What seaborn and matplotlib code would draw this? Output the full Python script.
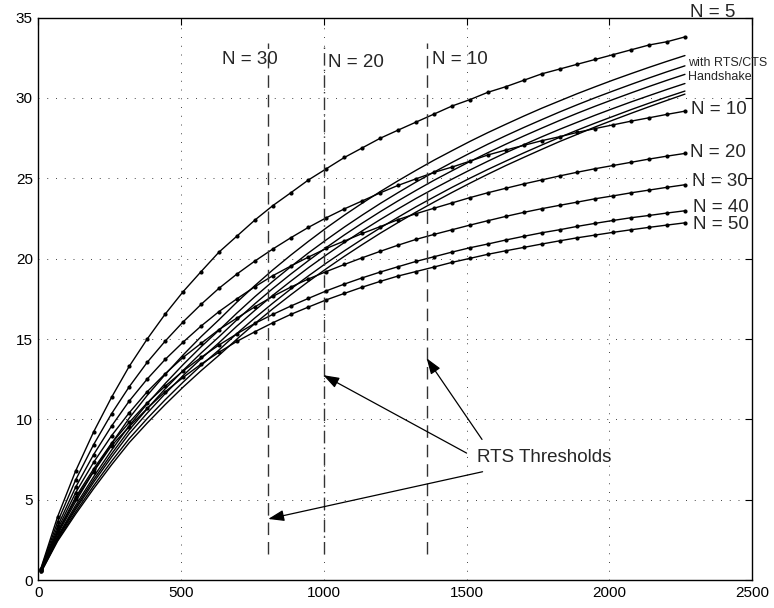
import matplotlib
matplotlib.use("Agg")
import matplotlib.pyplot as plt
import seaborn as sns
import pandas as pd

# packet size (x) shared by every curve
packet_size = [8, 67, 130, 193, 256, 318, 381, 444, 507, 570, 632, 695, 758, 821,
               884, 946, 1009, 1072, 1135, 1198, 1260, 1323, 1386, 1449, 1512, 1574,
               1637, 1700, 1763, 1826, 1888, 1951, 2014, 2077, 2140, 2202, 2265]

# basic access throughput, one list per station count
basic_n5 = [0.70, 3.94, 6.78, 9.21, 11.37, 13.30, 15.00, 16.55, 17.95, 19.20, 20.40, 21.40,
            22.40, 23.30, 24.10, 24.90, 25.60, 26.30, 26.90, 27.50, 28.00, 28.50, 29.00,
            29.50, 29.90, 30.35, 30.70, 31.10, 31.50, 31.80, 32.10, 32.40, 32.70, 33.00,
            33.30, 33.50, 33.80]
basic_n10 = [0.66, 3.62, 6.22, 8.42, 10.35, 12.03, 13.55, 14.87, 16.07, 17.16, 18.15, 19.04,
             19.85, 20.60, 21.30, 21.95, 22.55, 23.10, 23.60, 24.10, 24.56, 24.97, 25.37,
             25.70, 26.07, 26.45, 26.76, 27.05, 27.34, 27.59, 27.86, 28.10, 28.33, 28.56,
             28.77, 28.98, 29.18]
basic_n20 = [0.62, 3.35, 5.77, 7.80, 9.58, 11.14, 12.51, 13.73, 14.81, 15.81, 16.70, 17.50,
             18.25, 18.94, 19.54, 20.10, 20.64, 21.10, 21.57, 22.00, 22.43, 22.80, 23.14,
             23.47, 23.80, 24.10, 24.38, 24.65, 24.90, 25.15, 25.38, 25.60, 25.80, 26.00,
             26.20, 26.38, 26.55]
basic_n30 = [0.60, 3.15, 5.43, 7.32, 8.98, 10.41, 11.72, 12.84, 13.86, 14.73, 15.58, 16.30,
             17.00, 17.65, 18.23, 18.74, 19.20, 19.64, 20.06, 20.46, 20.84, 21.20, 21.51,
             21.80, 22.09, 22.36, 22.63, 22.88, 23.11, 23.32, 23.52, 23.73, 23.91, 24.10,
             24.27, 24.44, 24.60]
basic_n40 = [0.58, 3.00, 5.15, 6.91, 8.51, 9.81, 11.03, 12.07, 13.01, 13.86, 14.62, 15.32,
             15.97, 16.53, 17.05, 17.53, 18.00, 18.42, 18.81, 19.17, 19.50, 19.83, 20.12,
             20.41, 20.68, 20.91, 21.16, 21.39, 21.61, 21.80, 22.01, 22.20, 22.38, 22.55,
             22.69, 22.84, 22.98]
basic_n50 = [0.57, 2.95, 5.04, 6.74, 8.36, 9.54, 10.68, 11.72, 12.61, 13.44, 14.17, 14.85,
             15.45, 16.01, 16.53, 16.99, 17.44, 17.84, 18.23, 18.59, 18.92, 19.20, 19.48,
             19.77, 20.02, 20.27, 20.49, 20.70, 20.91, 21.11, 21.30, 21.47, 21.64, 21.80,
             21.95, 22.09, 22.23]

# RTS/CTS handshake throughput (same station counts, no markers)
rts_n5 = [0.55, 2.85, 4.88, 6.75, 8.49, 10.08, 11.49, 12.79, 14.01, 15.15, 16.19, 17.29,
          18.32, 19.30, 20.22, 21.08, 21.92, 22.71, 23.46, 24.18, 24.85, 25.50, 26.13,
          26.72, 27.30, 27.84, 28.36, 28.87, 29.36, 29.82, 30.27, 30.70, 31.12, 31.52,
          31.91, 32.28, 32.64]
rts_n10 = [0.53, 2.71, 4.64, 6.42, 8.08, 9.61, 10.97, 12.23, 13.41, 14.52, 15.54, 16.61,
           17.63, 18.59, 19.50, 20.36, 21.18, 21.97, 22.72, 23.44, 24.11, 24.77, 25.39,
           25.99, 26.57, 27.12, 27.65, 28.16, 28.65, 29.13, 29.58, 30.02, 30.44, 30.85,
           31.25, 31.63, 32.00]
rts_n20 = [0.51, 2.64, 4.50, 6.24, 7.85, 9.34, 10.66, 11.90, 13.05, 14.13, 15.13, 16.19,
           17.19, 18.14, 19.04, 19.88, 20.70, 21.48, 22.22, 22.93, 23.60, 24.25, 24.88,
           25.47, 26.05, 26.59, 27.12, 27.63, 28.12, 28.60, 29.05, 29.49, 29.91, 30.32,
           30.72, 31.10, 31.47]
rts_n30 = [0.49, 2.58, 4.39, 6.08, 7.65, 9.11, 10.39, 11.60, 12.73, 13.78, 14.76, 15.80,
           16.78, 17.72, 18.60, 19.44, 20.24, 21.01, 21.74, 22.44, 23.10, 23.75, 24.36,
           24.95, 25.52, 26.06, 26.59, 27.09, 27.58, 28.05, 28.49, 28.93, 29.35, 29.76,
           30.15, 30.53, 30.90]
rts_n40 = [0.47, 2.49, 4.23, 5.86, 7.39, 8.80, 10.05, 11.22, 12.32, 13.36, 14.31, 15.34,
           16.31, 17.23, 18.11, 18.93, 19.73, 20.49, 21.22, 21.92, 22.58, 23.23, 23.84,
           24.44, 25.01, 25.55, 26.07, 26.58, 27.07, 27.55, 28.00, 28.44, 28.86, 29.28,
           29.68, 30.06, 30.43]
rts_n50 = [0.45, 2.42, 4.10, 5.68, 7.17, 8.55, 9.77, 10.92, 12.01, 13.03, 13.98, 14.99,
           15.96, 16.88, 17.75, 18.58, 19.38, 20.15, 20.88, 21.59, 22.25, 22.90, 23.52,
           24.12, 24.70, 25.25, 25.79, 26.30, 26.80, 27.29, 27.74, 28.20, 28.63, 29.05,
           29.46, 29.85, 30.24]

# RTS threshold packet sizes and their labels
threshold_x = [805, 1000, 1360]
threshold_labels = ["N = 30", "N = 20", "N = 10"]
threshold_styles = [(0, (9, 5)), (0, (9, 3, 1, 3)), (0, (9, 5))]

basic_labels = ["N = 5", "N = 10", "N = 20", "N = 30", "N = 40", "N = 50"]
x_ticks = [0, 500, 1000, 1500, 2000, 2500]
y_ticks = [0, 5, 10, 15, 20, 25, 30, 35]

basic_series = [basic_n5, basic_n10, basic_n20, basic_n30, basic_n40, basic_n50]
rts_series = [rts_n5, rts_n10, rts_n20, rts_n30, rts_n40, rts_n50]

frames = []
for lab, vals in zip(basic_labels, basic_series):
    frames.append(pd.DataFrame({"size": packet_size, "thr": vals, "curve": "basic " + lab}))
for lab, vals in zip(basic_labels, rts_series):
    frames.append(pd.DataFrame({"size": packet_size, "thr": vals, "curve": "rts " + lab}))
df = pd.concat(frames, ignore_index=True)

sns.set_style("white")
plt.rcParams["font.family"] = ["Liberation Sans", "DejaVu Sans"]

fig = plt.figure(figsize=(7.74, 6.08), dpi=100)
ax = fig.add_axes([0.0497, 0.046, 0.9219, 0.925])

for lab in basic_labels:
    sub = df[df["curve"] == "rts " + lab]
    sns.lineplot(data=sub, x="size", y="thr", ax=ax, color="black", lw=1.0,
                 sort=False, estimator=None)
for lab in basic_labels:
    sub = df[df["curve"] == "basic " + lab]
    sns.lineplot(data=sub, x="size", y="thr", ax=ax, color="black", lw=1.0,
                 marker="o", markersize=3.0, markeredgewidth=0,
                 sort=False, estimator=None)

# vertical RTS threshold markers
for tx, ls in zip(threshold_x, threshold_styles):
    ax.plot([tx, tx], [1.6, 33.4], color="#333333", lw=1.0, linestyle=ls)

ax.set_xlim(0, 2500)
ax.set_ylim(0, 35)
ax.set_xticks(x_ticks)
ax.set_yticks(y_ticks)
ax.set_xlabel("")
ax.set_ylabel("")
ax.grid(True, color="#444444", linestyle=(0, (1, 8)), lw=0.7)
ax.tick_params(direction="in", length=5, width=0.8, top=True, right=True,
               labelsize=11, colors="black", pad=4)
for s in ax.spines.values():
    s.set_visible(True)
    s.set_color("black")
    s.set_linewidth(1.0)

# curve labels at the right end
label_pos = [(2283, 35.3), (2286, 29.3), (2283, 26.6), (2289, 24.8), (2294, 23.2), (2294, 22.15)]
for lab, (lx, ly) in zip(basic_labels, label_pos):
    ax.text(lx, ly, lab, fontsize=13.5, ha="left", va="center", clip_on=False)
ax.text(2276, 32.2, "with RTS/CTS", fontsize=9, ha="left", va="center", clip_on=False)
ax.text(2276, 31.3, "Handshake", fontsize=9, ha="left", va="center", clip_on=False)

# threshold labels near the top
for (tx, ty), lab in zip([(643, 32.4), (1014, 32.2), (1379, 32.4)], threshold_labels):
    ax.text(tx, ty, lab, fontsize=13.5, ha="left", va="center")

ax.text(1536, 7.65, "RTS Thresholds", fontsize=13.5, ha="left", va="center")
arrow_kw = dict(arrowstyle="-|>,head_length=0.8,head_width=0.28", color="black",
                lw=0.9, shrinkA=0, shrinkB=0, mutation_scale=12)
for tail, head in [((1554, 8.75), (1360, 13.8)),
                   ((1500, 7.9), (998, 12.75)),
                   ((1556, 6.74), (805, 3.8))]:
    ax.annotate("", xy=head, xytext=tail, arrowprops=arrow_kw)

fig.savefig("out.png", dpi=100)
